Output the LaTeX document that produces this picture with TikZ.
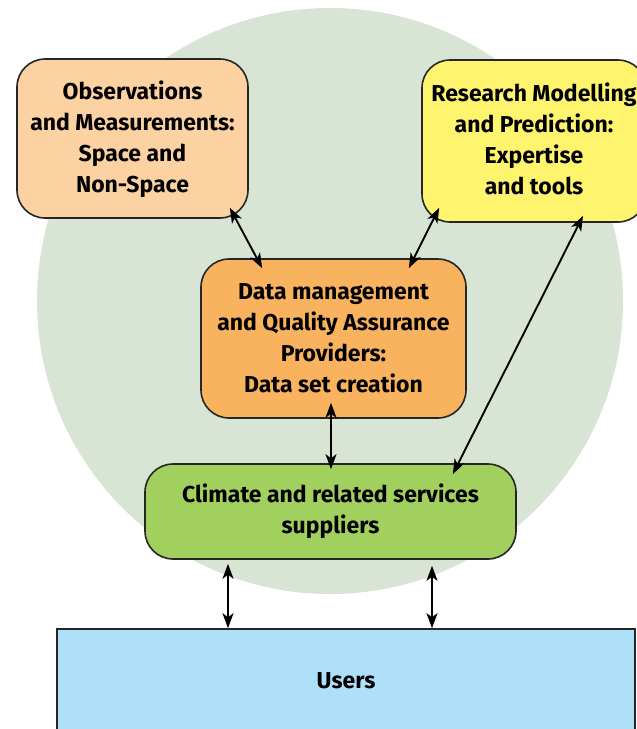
\documentclass[tikz,border=0pt]{standalone}
\usepackage{fontspec}
\setmainfont{Fira Sans}
\usetikzlibrary{arrows.meta,calc}
\definecolor{circfill}{HTML}{D8E4D4}
\definecolor{obsfill}{HTML}{FCD2A2}
\definecolor{resfill}{HTML}{FFF46E}
\definecolor{datafill}{HTML}{F9B25E}
\definecolor{climfill}{HTML}{A2D05E}
\definecolor{userfill}{HTML}{AEE0F9}
\begin{document}
\begin{tikzpicture}[x=1pt,y=-1pt,
  box/.style={draw=black!85, line width=1.6pt, rounded corners=28pt, align=center,
    font=\bfseries\fontsize{23}{31}\selectfont, inner sep=0pt},
  conn/.style={{Stealth[length=15pt,width=11pt,inset=4pt]}-{Stealth[length=15pt,width=11pt,inset=4pt]}, line width=1.9pt}]
\useasboundingbox (0,0) rectangle (637,729);
\clip (0,0) rectangle (637,729);
\fill[circfill] (330,301) circle (293pt);
\node[box, fill=obsfill, minimum width=231pt, minimum height=159pt, text depth=4pt] (obs) at (132.5,138.5)
  {Observations\\and Measurements:\\Space and\\Non-Space};
\node[box, fill=resfill, minimum width=224pt, minimum height=162pt, text depth=4pt] (res) at (534,141)
  {Research Modelling\\and Prediction:\\Expertise\\and tools};
\node[box, fill=datafill, minimum width=265pt, minimum height=159pt] (data) at (333.5,338.5)
  {Data management\\and Quality Assurance\\Providers:\\Data set creation};
\node[box, fill=climfill, minimum width=371pt, minimum height=95pt, text depth=5pt] (clim) at (330.5,511.5)
  {Climate and related services\\suppliers};
\node[box, rounded corners=0pt, fill=userfill, minimum width=578pt, minimum height=111pt, text depth=8pt] (users) at (346,684.5)
  {Users};
\coordinate (o1) at ($(obs.south east)+(-19,-11)$);
\coordinate (d1) at ($(data.north west)+(62,10)$);
\coordinate (r1) at ($(res.south west)+(18,-15)$);
\coordinate (d2) at ($(data.north east)+(-58,10)$);
\coordinate (d3) at ($(data.south)+(-2.5,-16)$);
\coordinate (c3) at ($(clim.north)+(0.5,6)$);
\coordinate (r4) at ($(res.south)+(49,-7)$);
\coordinate (c4) at ($(clim.north east)+(-64,11)$);
\coordinate (c5) at ($(clim.south)+(-102.5,4)$);
\coordinate (u5) at ($(users.north)+(-118,0)$);
\coordinate (c6) at ($(clim.south)+(101.5,6)$);
\coordinate (u6) at ($(users.north)+(86,0)$);
\draw[conn] (o1) -- (d1);
\draw[conn] (r1) -- (d2);
\draw[conn] (d3) -- (c3);
\draw[conn] (r4) -- (c4);
\draw[conn] (c5) -- (u5);
\draw[conn] (c6) -- (u6);
\end{tikzpicture}
\end{document}
